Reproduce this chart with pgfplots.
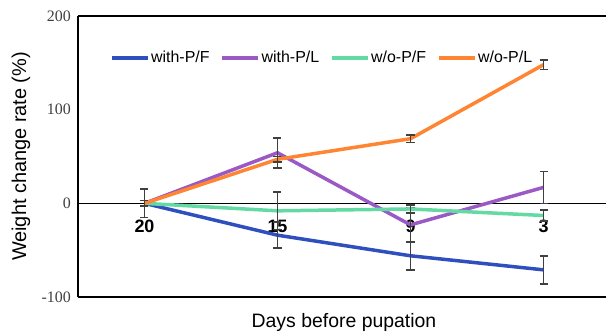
\documentclass[border=0pt]{standalone}
\usepackage{pgfplots}
\pgfplotsset{compat=1.18}
\usepackage{fontspec}
\setmainfont{Liberation Sans}
\newfontfamily\timesfont{Liberation Serif}
\definecolor{cblue}{RGB}{47,79,191}
\definecolor{cpurple}{RGB}{155,89,198}
\definecolor{cgreen}{RGB}{99,217,163}
\definecolor{corange}{RGB}{255,133,51}
\definecolor{cbar}{RGB}{64,64,64}
\begin{document}
\begin{tikzpicture}
\begin{axis}[
  scale only axis, width=532bp, height=281bp,
  xmin=-0.5, xmax=3.5, ymin=-100, ymax=200,
  axis x line*=middle, axis y line*=left,
  axis line style={line width=1.3bp, black},
  hide obscured x ticks=false, hide obscured y ticks=false,
  xtick={0,1,2,3}, xticklabels={20,15,9,3},
  ytick={-100,0,100,200}, yticklabels={-100,0,100,200},
  major tick length=0pt,
  x tick label style={font=\fontsize{18}{18}\selectfont\bfseries, anchor=north, yshift=-13bp},
  y tick label style={font=\timesfont\fontsize{16}{16}\selectfont, text=black!75, xshift=-3.7bp},
  xlabel={Days before pupation},
  ylabel={Weight change rate (\%)},
  every axis x label/.style={at={(axis description cs:0.5,-0.110)}, anchor=base, font=\fontsize{19.5}{19.5}\selectfont},
  every axis y label/.style={at={(axis description cs:-0.107,0.5)}, anchor=center, rotate=90, font=\fontsize{20}{20}\selectfont},
  clip=false,
  legend columns=4,
  legend style={at={(axis description cs:0.458,0.851)}, anchor=center, draw=none, fill=none,
    inner sep=0pt, font=\fontsize{16}{16}\selectfont,
    nodes={inner sep=1.5bp},
    /tikz/every even column/.append style={column sep=9bp}},
  legend image code/.code={\draw[#1, line width=4bp] (0bp,0bp) -- (36bp,0bp);},
  error bars/y dir=both, error bars/y explicit,
  error bars/error bar style={line width=1.6bp, cbar},
  error bars/error mark options={line width=1.6bp, cbar, mark size=4bp, rotate=90},
  every axis plot/.append style={line width=3.5bp, line join=round, mark=none},
]
\draw[line width=1.3bp] (axis cs:-0.5,200) -- (axis cs:3.5,200);
\draw[line width=1.3bp] (axis cs:-0.5,-100) -- (axis cs:3.5,-100);
\addplot[cblue] coordinates {(0,0) +- (0,3) (1,-34) +- (0,14) (2,-56) +- (0,15) (3,-71) +- (0,15)};
\addplot[cpurple] coordinates {(0,0) +- (0,15) (1,54) +- (0,16) (2,-23) +- (0,18) (3,17) +- (0,17)};
\addplot[cgreen] coordinates {(0,0) +- (0,3) (1,-8) +- (0,20) (2,-6) +- (0,4) (3,-13) +- (0,6)};
\addplot[corange] coordinates {(0,0) +- (0,3) (1,47) +- (0,3) (2,69) +- (0,4) (3,148) +- (0,5)};
\legend{with-P/F, with-P/L, w/o-P/F, w/o-P/L}
\end{axis}
\pgfresetboundingbox
\path[use as bounding box] (-78bp,-36bp) rectangle (528bp,297bp);
\end{tikzpicture}
\end{document}
